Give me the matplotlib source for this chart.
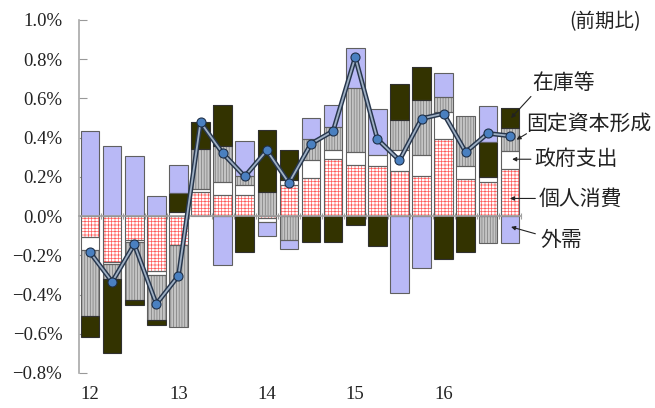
import numpy as np
import matplotlib
matplotlib.use("Agg")
import matplotlib.pyplot as plt
from matplotlib.ticker import FuncFormatter, FixedLocator

plt.rcParams['hatch.linewidth'] = 0.5
plt.rcParams['font.family'] = ['Liberation Serif', 'DejaVu Serif']

# quarterly contributions to GDP growth (% q/q), 2012Q1 - 2016Q4
years = ["12", "13", "14", "15", "16"]
consumption = [-0.106, -0.232, -0.123, -0.280, -0.147, 0.125, 0.108, 0.109, -0.012, 0.161,
               0.195, 0.289, 0.262, 0.253, 0.232, 0.202, 0.393, 0.188, 0.174, 0.238]
government = [-0.068, -0.014, -0.010, -0.021, 0.019, 0.013, 0.065, 0.048, -0.020, 0.024,
              0.089, 0.046, 0.065, 0.060, 0.106, 0.109, 0.140, 0.068, 0.023, 0.096]
investment = [-0.333, -0.075, -0.294, -0.229, -0.420, 0.202, 0.183, 0.048, 0.121, -0.123,
              0.111, 0.120, 0.328, 0.000, 0.150, 0.280, 0.072, 0.252, -0.138, 0.116]
inventories = [-0.109, -0.375, -0.026, -0.026, 0.097, 0.139, 0.210, -0.181, 0.316, 0.150,
               -0.133, -0.133, -0.046, -0.154, 0.186, 0.171, -0.217, -0.181, 0.181, 0.099]
net_exports = [0.432, 0.357, 0.306, 0.104, 0.146, 0.000, -0.248, 0.176, -0.068, -0.046,
               0.104, 0.111, 0.202, 0.232, -0.393, -0.266, 0.127, 0.000, 0.184, -0.138]
gdp = [-0.185, -0.335, -0.144, -0.448, -0.304, 0.479, 0.321, 0.202, 0.335, 0.169,
       0.369, 0.434, 0.810, 0.393, 0.284, 0.497, 0.523, 0.326, 0.422, 0.409]

labels = ["個人消費", "政府支出", "固定資本形成", "在庫等", "外需"]
series = [consumption, government, investment, inventories, net_exports]
# face, hatch, hatch colour, outline
styles = [
    ("white", "+++++", "#ff5a5a", "#606060"),
    ("white", None, "white", "#606060"),
    ("#c4c4c4", "||||||", "#7a7a7a", "#606060"),
    ("#333300", None, "#333300", "#303030"),
    ("#b9b9f6", None, "#b9b9f6", "#606060"),
]

x = np.arange(len(gdp))
w = 0.84

fig = plt.figure(figsize=(6.55, 4.08), dpi=100)
ax = fig.add_axes([0.1206, 0.0858, 0.6748, 0.8652])

pos = np.zeros(len(x))
neg = np.zeros(len(x))
for vals, (fc, hatch, hc, ec) in zip(series, styles):
    v = np.array(vals)
    bottom = np.where(v >= 0, pos, neg)
    m = v != 0
    ax.bar(x[m], v[m], w, bottom=bottom[m], color=fc, hatch=hatch, edgecolor=hc,
           linewidth=0, zorder=2)
    ax.bar(x[m], v[m], w, bottom=bottom[m], fill=False, edgecolor=ec,
           linewidth=0.8, zorder=3)
    pos = pos + np.where(v >= 0, v, 0)
    neg = neg + np.where(v < 0, v, 0)

# GDP line
ax.plot(x, gdp, color="#27364c", lw=3.4, zorder=4, solid_joinstyle="round")
ax.plot(x, gdp, color="#9fb0c4", lw=1.3, zorder=5, solid_joinstyle="round")
ax.plot(x, gdp, "o", ms=6.5, mfc="#4a80c0", mec="#1f3048", mew=0.8, zorder=6)

ax.set_xlim(-0.5, 19.5)
ax.set_ylim(-0.8, 1.0)
ax.set_yticks(np.arange(-0.8, 1.01, 0.2))


def pct(v, p):
    v = round(v, 1)
    if v == 0:
        return "0.0%"
    return f"{v:.1f}%".replace("-", "\u2212")


ax.yaxis.set_major_formatter(FuncFormatter(pct))
ax.tick_params(axis="y", direction="in", length=6, color="#999999", pad=12,
               labelsize=13.5, labelcolor="#222222")

for s in ["top", "right"]:
    ax.spines[s].set_visible(False)
ax.spines["left"].set_color("#a8a8a8")
ax.spines["left"].set_linewidth(1.2)
ax.spines["bottom"].set_position(("data", 0))
ax.spines["bottom"].set_color("#a0a0a0")
ax.spines["bottom"].set_linewidth(1.2)
ax.spines["bottom"].set_zorder(3.5)
ax.xaxis.set_major_locator(FixedLocator(np.arange(0.5, 19.6, 1)))
ax.tick_params(axis="x", direction="inout", length=5, color="#a0a0a0", labelbottom=False)

for i, yr in enumerate(years):
    ax.text(i * 4, -0.062, yr, transform=ax.get_xaxis_transform(), ha="center", va="center",
            fontsize=13.5, color="#222222")

cjk = ["Noto Sans CJK JP", "DejaVu Sans"]
fig.text(0.978, 0.948, "(前期比)", ha="right", va="center", fontsize=14,
         family=cjk, color="#222222")

# labels with arrows to last bar
ann = [
    ("在庫等", (19.05, 0.50), (20.0, 0.68), (19.95, 0.61)),
    ("固定資本形成", (19.3, 0.39), (19.75, 0.47), (19.75, 0.42)),
    ("政府支出", (19.1, 0.29), (20.1, 0.29), (19.95, 0.29)),
    ("個人消費", (19.0, 0.09), (20.3, 0.09), (20.15, 0.09)),
    ("外需", (19.05, -0.055), (20.4, -0.12), (20.15, -0.09)),
]
for txt, tip, tpos, tail in ann:
    ax.text(tpos[0], tpos[1], txt, ha="left", va="center", fontsize=15, family=cjk,
            color="#222222", clip_on=False)
    ax.annotate("", xy=tip, xytext=tail, annotation_clip=False,
                arrowprops=dict(arrowstyle="-|>", color="#222222", lw=0.8,
                                mutation_scale=6, shrinkA=0, shrinkB=0), zorder=7)

fig.savefig("out.png", dpi=100)
